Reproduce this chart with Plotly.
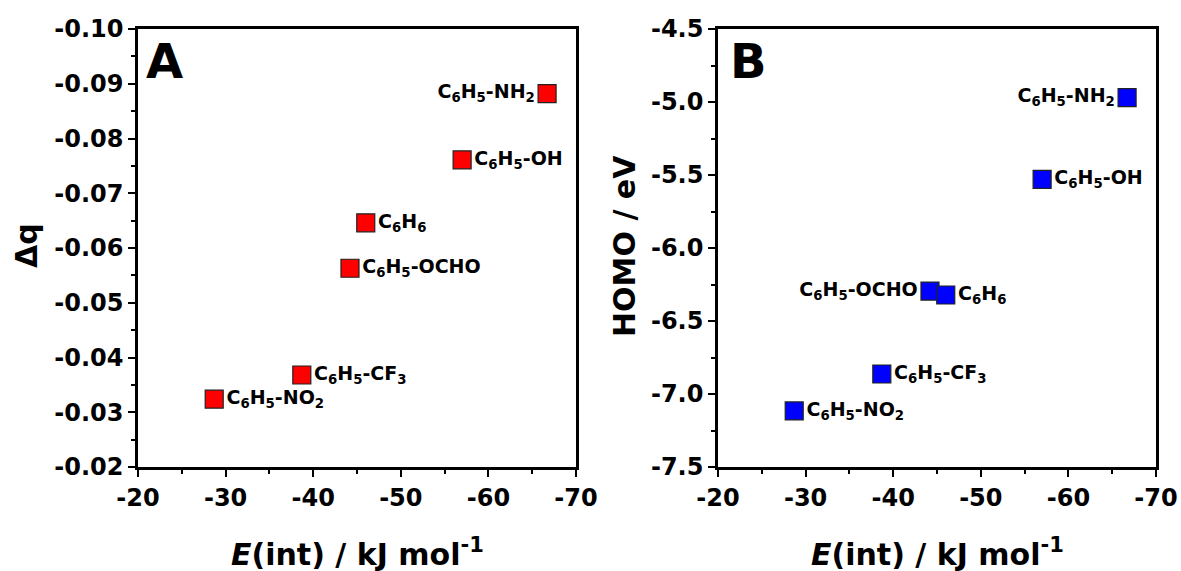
import plotly.graph_objects as go

# ---- data ----
compounds = [
    "C<sub>6</sub>H<sub>5</sub>-NH<sub>2</sub>",
    "C<sub>6</sub>H<sub>5</sub>-OH",
    "C<sub>6</sub>H<sub>5</sub>-OCHO",
    "C<sub>6</sub>H<sub>6</sub>",
    "C<sub>6</sub>H<sub>5</sub>-CF<sub>3</sub>",
    "C<sub>6</sub>H<sub>5</sub>-NO<sub>2</sub>",
]
e_int = [-66.7, -57.0, -44.2, -46.0, -38.7, -28.7]
delta_q = [-0.0882, -0.0761, -0.0563, -0.0646, -0.0368, -0.0324]
homo = [-4.97, -5.53, -6.295, -6.322, -6.863, -7.116]

x_ticks = [-20, -30, -40, -50, -60, -70]
x_ticktext = ["-20", "-30", "-40", "-50", "-60", "-70"]
dq_ticks = [-0.10, -0.09, -0.08, -0.07, -0.06, -0.05, -0.04, -0.03, -0.02]
dq_ticktext = ["-0.10", "-0.09", "-0.08", "-0.07", "-0.06", "-0.05", "-0.04", "-0.03", "-0.02"]
homo_ticks = [-4.5, -5.0, -5.5, -6.0, -6.5, -7.0, -7.5]
homo_ticktext = ["-4.5", "-5.0", "-5.5", "-6.0", "-6.5", "-7.0", "-7.5"]

# ---- styles ----
FONT = "DejaVu Sans"
pos_A = ["middle left", "middle right", "middle right", "middle right", "middle right", "middle right"]
pos_B = ["middle left", "middle right", "middle left", "middle right", "middle right", "middle right"]

W, H = 1181, 571
def px(x):
    return x / W
def py(y):
    return 1 - y / H

fig = go.Figure()

fig.add_trace(go.Scatter(
    x=e_int, y=delta_q, mode="markers+text", text=compounds, textposition=pos_A,
    marker=dict(symbol="square", size=18, color="#FF0000", line=dict(color="#222222", width=1.2)),
    textfont=dict(family=FONT, size=19, color="black", weight="bold"),
    xaxis="x", yaxis="y", showlegend=False, cliponaxis=False,
))
fig.add_trace(go.Scatter(
    x=e_int, y=homo, mode="markers+text", text=compounds, textposition=pos_B,
    marker=dict(symbol="square", size=18, color="#0000FF", line=dict(color="#222222", width=1.2)),
    textfont=dict(family=FONT, size=19, color="black", weight="bold"),
    xaxis="x2", yaxis="y2", showlegend=False, cliponaxis=False,
))

tickfont = dict(family=FONT, size=24, color="black", weight="bold")
minor_t = dict(ticks="outside", ticklen=4, tickwidth=2, tickcolor="black", showgrid=False)
common = dict(
    showline=True, linecolor="black", linewidth=2.5, mirror=True,
    ticks="outside", ticklen=7, tickwidth=2, tickcolor="black",
    showgrid=False, zeroline=False, tickfont=tickfont, automargin=False,
    ticklabeloverflow="allow",
)
xcommon = dict(common, range=[-20, -70], tickvals=x_ticks, ticktext=x_ticktext,
               minor=dict(minor_t, dtick=5))

ydom = [py(467), py(29)]
fig.update_layout(
    width=W, height=H,
    margin=dict(l=0, r=0, t=0, b=0),
    paper_bgcolor="white", plot_bgcolor="white",
    xaxis=dict(xcommon, domain=[px(138), px(576)], anchor="y"),
    yaxis=dict(common, domain=ydom, anchor="x", range=[-0.02, -0.10],
               tickvals=dq_ticks, ticktext=dq_ticktext,
               minor=dict(minor_t, dtick=0.005)),
    xaxis2=dict(xcommon, domain=[px(718), px(1156)], anchor="y2"),
    yaxis2=dict(common, domain=ydom, anchor="x2", range=[-7.5, -4.5],
                tickvals=homo_ticks, ticktext=homo_ticktext,
                minor=dict(minor_t, dtick=0.25)),
)

title_font = dict(family=FONT, size=30, color="black", weight="bold")
annos = [
    dict(text="<i>E</i>(int) / kJ mol<sup>-1</sup>", x=px(357), y=py(552), font=title_font),
    dict(text="<i>E</i>(int) / kJ mol<sup>-1</sup>", x=px(937), y=py(552), font=title_font),
    dict(text="Δq", x=px(26), y=py(246), font=title_font, textangle=-90),
    dict(text="HOMO / eV", x=px(624), y=py(246), font=title_font, textangle=-90),
    dict(text="A", x=px(165), y=py(61), font=dict(family=FONT, size=48, color="black", weight="bold")),
    dict(text="B", x=px(748), y=py(61), font=dict(family=FONT, size=48, color="black", weight="bold")),
]
for a in annos:
    fig.add_annotation(xref="paper", yref="paper", xanchor="center", yanchor="middle",
                       showarrow=False, **a)

fig.write_html("out.html")
